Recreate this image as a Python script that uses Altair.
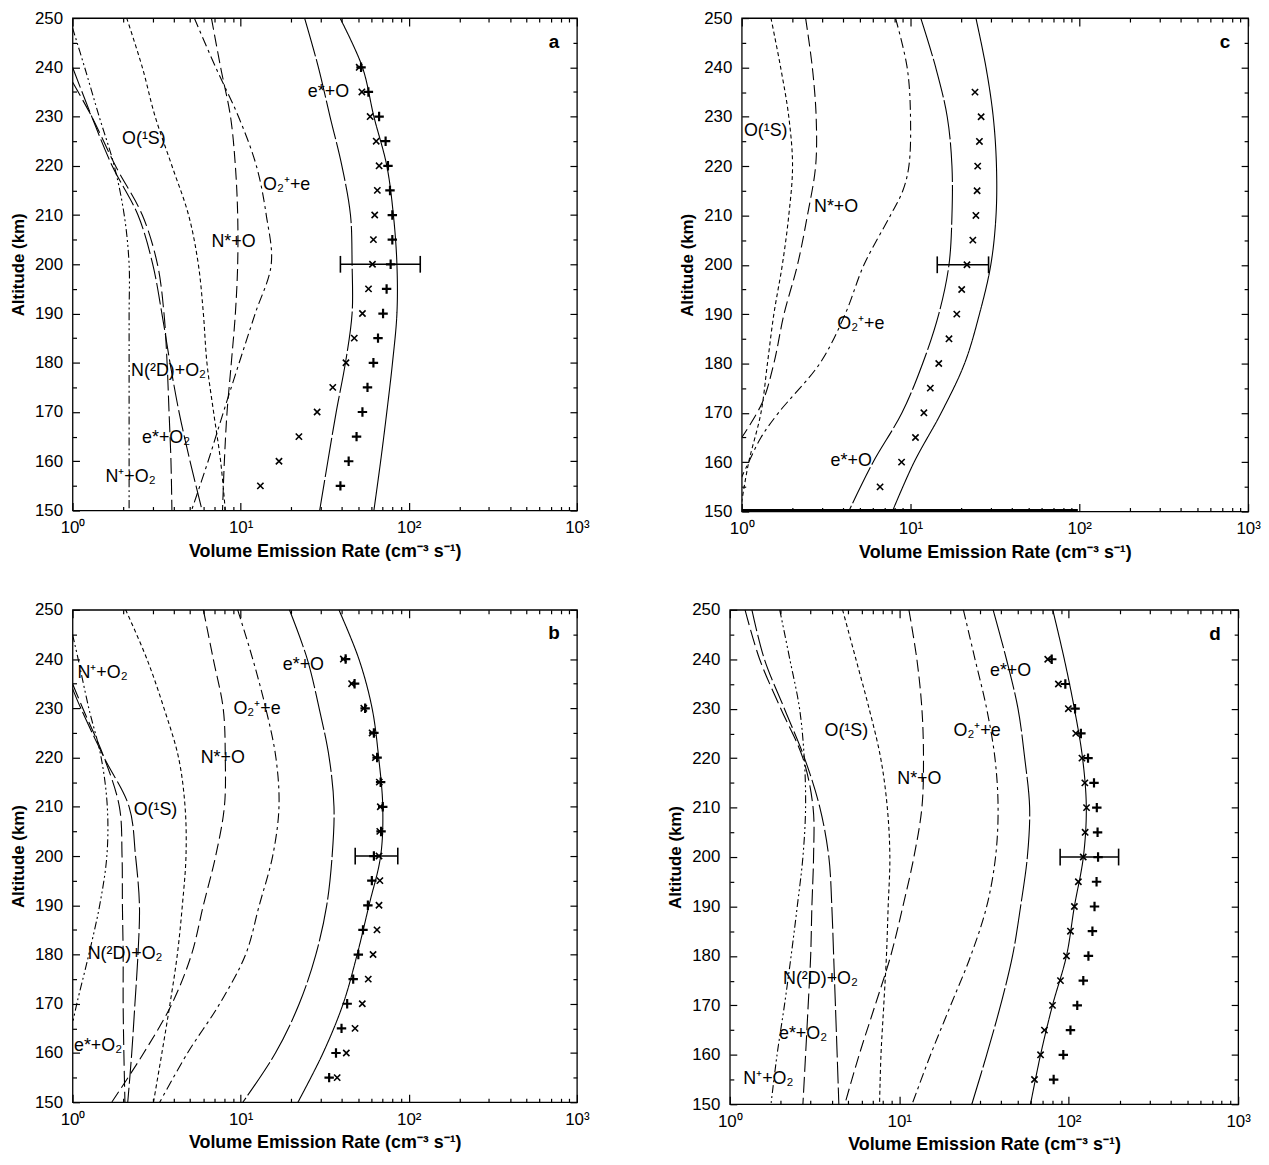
import altair as alt
import pandas as pd

FONT = "Liberation Sans"

ALT10 = [250, 240, 230, 220, 210, 200, 190, 180, 170, 160, 150]
MK_ALT = [240, 235, 230, 225, 220, 215, 210, 205, 200, 195, 190, 185, 180, 175, 170, 165, 160, 155]
C_MK_ALT = [235, 230, 225, 220, 215, 210, 205, 200, 195, 190, 185, 180, 175, 170, 165, 160, 155]

X_MAJOR = [1, 10, 100, 1000]
X_MINOR = [2, 3, 4, 5, 6, 7, 8, 9, 20, 30, 40, 50, 60, 70, 80, 90, 200, 300, 400, 500, 600, 700, 800, 900]
Y_MAJOR = list(range(150, 251, 10))
Y_MINOR = list(range(155, 250, 10))

# ---------------- panel a ----------------
a_total = [39, 53, 62, 74, 81, 85, 85, 80, 74, 68, 62]
a_eO = [24, 29, 34, 40, 45, 46, 46, 42, 37, 33, 29.5]
a_O2e = [5.3, 7.1, 9.7, 12.4, 14.2, 15.2, 12.2, 9.8, 7.9, 6.4, 5.1]
a_NstarO = [6.7, 7.6, 8.7, 9.3, 9.6, 9.6, 9.3, 8.8, 8.3, 8.0, 7.8]
a_O1S = [2.1, 2.6, 3.1, 3.9, 4.9, 5.6, 6.0, 6.3, 6.9, 7.6, 8.1]
a_N2D_alt = [240, 230, 220, 210, 200, 190, 180, 170, 160, 150]
a_N2D = [1.0, 1.3, 1.72, 2.45, 3.0, 3.4, 3.8, 4.3, 5.0, 5.9]
a_eO2_alt = [237, 230, 220, 210, 200, 190, 180, 170, 160, 150]
a_eO2 = [1.0, 1.3, 1.8, 2.6, 3.2, 3.5, 3.65, 3.75, 3.85, 3.9]
a_NpO2_alt = [248, 240, 230, 220, 210, 200, 190, 180, 170, 160, 150]
a_NpO2 = [1.0, 1.18, 1.44, 1.77, 2.03, 2.17, 2.17, 2.17, 2.17, 2.17, 2.17]
a_mk_x = [50.7, 52.6, 58.9, 64, 66.6, 65, 62.7, 61.6, 60.8, 57.6, 53, 47.4, 42.3, 35.3, 28.5, 22.2, 16.9, 13.1]
a_mk_plus = [52, 57.5, 66.6, 72.8, 75.2, 77.3, 79.8, 79.8, 78, 73.8, 70.3, 65.6, 61.6, 56.8, 53, 48.9, 43.9, 39.2]
a_err = [39.2, 117]
a_lab_text = ["O(¹S)", "O₂⁺+e", "N*+O", "e*+O", "N(²D)+O₂", "e*+O₂", "N⁺+O₂"]
a_lab_x = [1.97, 13.6, 6.7, 25.1, 2.23, 2.59, 1.57]
a_lab_alt = [225.4, 216, 204.6, 234.9, 178.4, 164.7, 156.9]

# ---------------- panel c ----------------
c_total = [24.4, 28, 30.9, 32.3, 32.1, 29.9, 25.6, 20.9, 15.2, 10.5, 7.8]
c_eO = [11.5, 14.1, 16.5, 17.6, 17.6, 16.9, 14.7, 11.8, 8.9, 6.0, 4.3]
c_O2e_alt = [250, 240, 230, 220, 215, 210, 200, 190, 180, 170, 165, 160, 157]
c_O2e = [8.15, 9.55, 10.0, 9.78, 9.0, 7.6, 5.3, 4.1, 2.9, 1.65, 1.3, 1.1, 1.0]
c_NstarO_alt = [250, 240, 230, 220, 210, 200, 190, 180, 172, 165]
c_NstarO = [2.39, 2.62, 2.76, 2.74, 2.45, 2.14, 1.78, 1.55, 1.32, 1.0]
c_O1S_alt = [250, 240, 230, 220, 210, 200, 190, 180, 170, 160, 152]
c_O1S = [1.49, 1.70, 1.9, 2.0, 1.9, 1.74, 1.55, 1.42, 1.3, 1.1, 1.0]
c_base_alt = [150.2, 150.2]
c_base = [1.0, 98]
c_mk_x = [24.1, 26.2, 25.6, 25.0, 24.8, 24.4, 23.4, 21.6, 20.1, 18.8, 16.9, 14.7, 13.1, 12.0, 10.7, 8.85, 6.6]
c_err = [14.4, 29]
c_lab_text = ["O(¹S)", "N*+O", "O₂⁺+e", "e*+O"]
c_lab_x = [1.03, 2.68, 3.68, 3.36]
c_lab_alt = [227.2, 211.8, 187.9, 160.3]

# ---------------- panel b ----------------
b_total = [38.4, 50.5, 60.5, 66.2, 70, 68, 58, 49.3, 40.7, 30.9, 21.9]
b_eO = [19.5, 24.9, 29.3, 33.6, 35.9, 35, 32.5, 28, 22.3, 16.1, 10.3]
b_O2e = [9.6, 11.8, 14.1, 16.2, 16.9, 15.5, 12.9, 10.7, 7.5, 4.83, 3.3]
b_NstarO = [6.0, 6.87, 7.87, 8.1, 8.0, 7.1, 6.0, 5.1, 3.9, 2.65, 1.71]
b_O1S = [2.07, 2.77, 3.5, 4.27, 4.67, 4.73, 4.5, 4.2, 3.8, 3.4, 3.03]
b_N2D_alt = [234, 230, 220, 210, 200, 190, 180, 170, 160, 150]
b_N2D = [1.0, 1.12, 1.54, 2.17, 2.37, 2.5, 2.45, 2.35, 2.25, 2.13]
b_eO2_alt = [235, 230, 220, 210, 200, 190, 180, 170, 160, 150]
b_eO2 = [1.0, 1.15, 1.54, 1.9, 1.97, 1.98, 2.0, 2.0, 2.02, 2.05]
b_NpO2_alt = [245, 240, 230, 220, 210, 200, 190, 180, 170, 166]
b_NpO2 = [1.0, 1.08, 1.25, 1.48, 1.61, 1.6, 1.45, 1.25, 1.06, 1.0]
b_mk_x = [40.8, 45.7, 54, 60.5, 63.3, 66.8, 67.7, 67.2, 66.5, 67.3, 66.5, 64.7, 61.3, 57.4, 52.9, 47.9, 42.5, 37.5]
b_mk_plus = [42.1, 47.6, 55, 62, 64.8, 68, 70, 68.4, 62, 60.3, 57.1, 53.4, 50.1, 46.7, 43, 39.8, 36.9, 33.6]
b_err = [48, 86]
b_lab_text = ["N⁺+O₂", "O₂⁺+e", "N*+O", "O(¹S)", "e*+O", "N(²D)+O₂", "e*+O₂"]
b_lab_x = [1.07, 9.06, 5.78, 2.31, 17.8, 1.23, 1.02]
b_lab_alt = [237.2, 229.8, 219.8, 209.3, 238.8, 180, 161.4]

# ---------------- panel d ----------------
d_total = [80.5, 94.2, 108, 120.7, 127, 122, 108, 97, 80.2, 68.2, 59.5]
d_eO = [35.8, 42.9, 50.2, 55, 58.8, 57, 52, 46.6, 39.6, 32.8, 26.8]
d_O2e = [23.9, 28, 32.8, 36.7, 38.3, 37, 32.8, 26.4, 20.1, 15.3, 11.9]
d_NstarO = [11.4, 12.7, 13.6, 13.9, 13.6, 12.2, 10.5, 8.9, 7.2, 5.8, 4.77]
d_O1S = [4.63, 5.55, 6.64, 7.77, 8.5, 8.8, 8.6, 8.4, 8.1, 7.8, 7.65]
d_NpO2 = [1.97, 2.26, 2.58, 2.75, 2.8, 2.7, 2.5, 2.3, 2.1, 1.9, 1.75]
d_eO2 = [1.23, 1.5, 2.0, 2.7, 3.1, 3.12, 3.05, 3.0, 2.9, 2.8, 2.7]
d_N2D = [1.35, 1.6, 2.1, 2.76, 3.4, 3.84, 4.0, 4.1, 4.2, 4.3, 4.4]
d_mk_x = [75.2, 86.9, 99.5, 110, 119.7, 124.5, 127.4, 125, 121.8, 114, 108, 102.4, 97, 89.4, 80.2, 71.9, 68.2, 62.8]
d_mk_plus = [79.4, 95.5, 109, 118, 130, 141, 146.5, 148, 149, 146, 142, 138, 130.7, 121.9, 112.3, 102.4, 92.9, 81.5]
d_err = [89, 197]
d_lab_text = ["O(¹S)", "N*+O", "O₂⁺+e", "e*+O", "N(²D)+O₂", "e*+O₂", "N⁺+O₂"]
d_lab_x = [3.62, 9.73, 20.9, 34.3, 2.06, 1.95, 1.2]
d_lab_alt = [225.5, 215.7, 225.5, 237.6, 175.3, 164.2, 155.1]

DASH_KEYS = ["total", "eO", "O2e", "NstarO", "O1S", "N2D", "eO2", "NpO2"]
DASH_VALS = [[1, 0], [40, 3], [10, 4, 3, 4], [12, 5], [4, 3], [22, 4], [16, 5], [8, 3, 2, 3, 2, 3]]

PLUS_PATH = "M-1,0L1,0M0,-1L0,1"
X_PATH = "M-1,-1L1,1M-1,1L1,-1"

X_TITLE = "Volume Emission Rate  (cm⁻³ s⁻¹)"
LBL_EXPR = ("datum.value == 1 ? '10⁰' : datum.value == 10 ? '10¹' : "
            "datum.value == 100 ? '10²' : '10³'")


def curve_frame(curves):
    rows = []
    for key, alts, vals in curves:
        for i, (h, v) in enumerate(zip(alts, vals)):
            rows.append({"curve": key, "alt": h, "val": v, "ord": i})
    return pd.DataFrame(rows)


def tick_axis(orient, offset, values, size):
    return alt.Axis(orient=orient, offset=offset, values=values, labels=False, domain=False, grid=False,
                    ticks=True, tickSize=size, title=None)


def panel(W, H, curves, mk_alt, mk_x, mk_plus, err, lab_text, lab_x, lab_alt, letter, base=None):
    xs = alt.Scale(type="log", domain=[1, 1000], nice=False)
    ys = alt.Scale(domain=[150, 250], nice=False, zero=False)

    ax_x_main = alt.Axis(orient="bottom", values=X_MAJOR, labelExpr=LBL_EXPR, ticks=False, tickSize=0,
                         domain=False, grid=False, labelFlush=False, labelPadding=9, titlePadding=7,
                         titleFontSize=18, title=X_TITLE)
    ax_y_main = alt.Axis(orient="left", values=Y_MAJOR, ticks=False, tickSize=0, domain=False, grid=False,
                         labelPadding=10, titlePadding=7, titleFontSize=17, title="Altitude (km)")

    # inward ticks on all four sides (axes shifted into the frame by a negative offset)
    xb_major = tick_axis("top", -H, X_MAJOR, 8)
    xb_minor = tick_axis("top", -H, X_MINOR, 4)
    xt_major = tick_axis("bottom", -H, X_MAJOR, 8)
    xt_minor = tick_axis("bottom", -H, X_MINOR, 4)
    yl_major = tick_axis("right", -W, Y_MAJOR, 7)
    yl_minor = tick_axis("right", -W, Y_MINOR, 4)
    yr_major = tick_axis("left", -W, Y_MAJOR, 7)
    yr_minor = tick_axis("left", -W, Y_MINOR, 4)

    cdf = curve_frame(curves)
    lines = alt.Chart(cdf).mark_line(color="black", strokeWidth=1.1, interpolate="catmull-rom", clip=True).encode(
        x=alt.X("val:Q", scale=xs, axis=ax_x_main),
        y=alt.Y("alt:Q", scale=ys, axis=ax_y_main),
        strokeDash=alt.StrokeDash("curve:N", scale=alt.Scale(domain=DASH_KEYS, range=DASH_VALS), legend=None),
        detail="curve:N",
        order=alt.Order("ord:Q"),
    )

    edf = pd.DataFrame({"alt": [200], "lo": [err[0]], "hi": [err[1]]})
    eh = alt.Chart(edf).mark_rule(color="black", strokeWidth=1.6).encode(
        x=alt.X("lo:Q", scale=xs, axis=xb_major),
        x2="hi:Q",
        y=alt.Y("alt:Q", scale=ys, axis=yl_major),
    )
    capdf = pd.DataFrame({"v": err, "y1": [198.3, 198.3], "y2": [201.7, 201.7]})
    ec = alt.Chart(capdf).mark_rule(color="black", strokeWidth=1.6).encode(
        x=alt.X("v:Q", scale=xs, axis=xb_minor),
        y=alt.Y("y1:Q", scale=ys, axis=yl_minor),
        y2="y2:Q",
    )
    layers = [lines, eh, ec]

    if base:
        bdf = pd.DataFrame({"alt": base[0], "v": base[1]})
        layers.append(alt.Chart(bdf).mark_line(color="black", strokeWidth=3).encode(
            x=alt.X("v:Q", scale=xs, axis=None), y=alt.Y("alt:Q", scale=ys, axis=None)))

    mdf = pd.DataFrame({"alt": mk_alt[-len(mk_x):], "v": mk_x})
    layers.append(alt.Chart(mdf).mark_point(shape=X_PATH, size=40, filled=False, color="black", strokeWidth=1.6,
                                            opacity=1).encode(
        x=alt.X("v:Q", scale=xs, axis=xt_major), y=alt.Y("alt:Q", scale=ys, axis=yr_major)))
    if mk_plus:
        pdf = pd.DataFrame({"alt": mk_alt, "v": mk_plus})
        layers.append(alt.Chart(pdf).mark_point(shape=PLUS_PATH, size=90, filled=False, color="black",
                                                strokeWidth=2.2, opacity=1).encode(
            x=alt.X("v:Q", scale=xs, axis=None), y=alt.Y("alt:Q", scale=ys, axis=None)))

    ldf = pd.DataFrame({"t": lab_text, "v": lab_x, "alt": lab_alt})
    layers.append(alt.Chart(ldf).mark_text(align="left", baseline="middle", fontSize=18, font=FONT, color="black").encode(
        x=alt.X("v:Q", scale=xs, axis=xt_minor), y=alt.Y("alt:Q", scale=ys, axis=yr_minor), text="t:N"))

    tdf = pd.DataFrame({"t": [letter], "v": [730], "alt": [245.2]})
    layers.append(alt.Chart(tdf).mark_text(align="center", baseline="middle", fontSize=19, fontWeight="bold",
                                           font=FONT, color="black").encode(
        x=alt.X("v:Q", scale=xs, axis=None), y=alt.Y("alt:Q", scale=ys, axis=None), text="t:N"))

    return alt.layer(*layers).resolve_axis(x="independent", y="independent").properties(width=W, height=H)


pa = panel(508, 496, [
    ("total", ALT10, a_total), ("eO", ALT10, a_eO), ("O2e", ALT10, a_O2e), ("NstarO", ALT10, a_NstarO),
    ("O1S", ALT10, a_O1S), ("N2D", a_N2D_alt, a_N2D), ("eO2", a_eO2_alt, a_eO2), ("NpO2", a_NpO2_alt, a_NpO2)],
    MK_ALT, a_mk_x, a_mk_plus, a_err, a_lab_text, a_lab_x, a_lab_alt, "a")

pc = panel(510, 497, [
    ("total", ALT10, c_total), ("eO", ALT10, c_eO), ("O2e", c_O2e_alt, c_O2e),
    ("NstarO", c_NstarO_alt, c_NstarO), ("O1S", c_O1S_alt, c_O1S)],
    C_MK_ALT, c_mk_x, None, c_err, c_lab_text, c_lab_x, c_lab_alt, "c", base=(c_base_alt, c_base))

pb = panel(508, 496, [
    ("total", ALT10, b_total), ("eO", ALT10, b_eO), ("O2e", ALT10, b_O2e), ("NstarO", ALT10, b_NstarO),
    ("O1S", ALT10, b_O1S), ("N2D", b_N2D_alt, b_N2D), ("eO2", b_eO2_alt, b_eO2), ("NpO2", b_NpO2_alt, b_NpO2)],
    MK_ALT, b_mk_x, b_mk_plus, b_err, b_lab_text, b_lab_x, b_lab_alt, "b")

pd_ = panel(512, 498, [
    ("total", ALT10, d_total), ("eO", ALT10, d_eO), ("O2e", ALT10, d_O2e), ("NstarO", ALT10, d_NstarO),
    ("O1S", ALT10, d_O1S), ("N2D", ALT10, d_N2D), ("eO2", ALT10, d_eO2), ("NpO2", ALT10, d_NpO2)],
    MK_ALT, d_mk_x, d_mk_plus, d_err, d_lab_text, d_lab_x, d_lab_alt, "d")

top = alt.hconcat(pa, pc, spacing=88)
bottom = alt.hconcat(pb, pd_, spacing=76)

chart = alt.vconcat(top, bottom, spacing=38).properties(
    padding={"left": 0, "top": -4, "right": 0, "bottom": 0}
).configure_view(
    stroke="black", strokeWidth=1.3
).configure_axis(
    labelFont=FONT, titleFont=FONT, labelFontSize=17, labelColor="black",
    titleColor="black", tickColor="black", tickWidth=1.2
).configure_text(font=FONT)

chart.save("out.html", embed_options={"renderer": "svg", "actions": False})
